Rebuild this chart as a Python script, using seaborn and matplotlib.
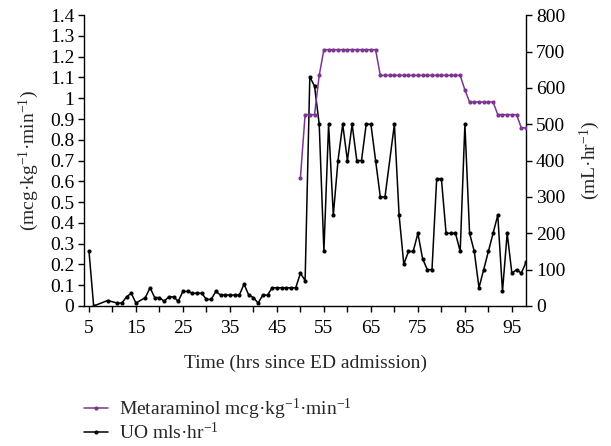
import matplotlib
matplotlib.use("Agg")
import matplotlib.pyplot as plt
import seaborn as sns
import pandas as pd
from matplotlib.ticker import MultipleLocator, FixedLocator, FuncFormatter

# ---- data ----
uo_hours = [5, 6, 9, 11, 12, 13, 14, 15, 17, 18, 19, 20, 21, 22, 23, 24, 25, 26, 27, 28,
            29, 30, 31, 32, 33, 34, 35, 36, 37, 38, 39, 40, 41, 42, 43, 44, 45, 46, 47, 48,
            49, 50, 51, 52, 53, 54, 55, 56, 57, 58, 59, 60, 61, 62, 63, 64, 65, 66, 67, 68,
            70, 71, 72, 73, 74, 75, 76, 77, 78, 79, 80, 81, 82, 83, 84, 85, 86, 87, 88, 89,
            90, 91, 92, 93, 94, 95, 96, 97, 98]
uo_values = [152, 0, 15, 8, 8, 25, 35, 8, 23, 50, 23, 23, 13, 25, 25, 13, 40, 40, 35, 35,
             35, 18, 18, 40, 30, 30, 30, 30, 30, 60, 30, 23, 8, 30, 30, 50, 50, 50, 50, 50,
             50, 90, 70, 630, 605, 500, 150, 500, 250, 400, 500, 400, 500, 400, 400, 500, 500, 400, 300, 300,
             500, 250, 115, 150, 150, 200, 130, 100, 100, 350, 350, 200, 200, 200, 150, 500, 200, 150, 50, 100,
             150, 200, 250, 40, 200, 90, 100, 90, 120]

met_hours = [50, 51, 52, 53, 54, 55, 56, 57, 58, 59, 60, 61, 62, 63, 64, 65, 66, 67, 68, 69,
             70, 71, 72, 73, 74, 75, 76, 77, 78, 79, 80, 81, 82, 83, 84, 85, 86, 87, 88, 89,
             90, 91, 92, 93, 94, 95, 96, 97, 98]
met_values = [0.617, 0.921, 0.921, 0.921, 1.11, 1.234, 1.234, 1.234, 1.234, 1.234, 1.234, 1.234,
              1.234, 1.234, 1.234, 1.234, 1.234, 1.11, 1.11, 1.11, 1.11, 1.11, 1.11, 1.11, 1.11,
              1.11, 1.11, 1.11, 1.11, 1.11, 1.11, 1.11, 1.11, 1.11, 1.11, 1.04, 0.982, 0.982, 0.982,
              0.982, 0.982, 0.982, 0.921, 0.921, 0.921, 0.921, 0.921, 0.858, 0.858]

x_label = "Time (hrs since ED admission)"
left_label = r"(mcg·kg$^{-1}$·min$^{-1}$)"
right_label = r"(mL·hr$^{-1}$)"
met_legend = r"Metaraminol mcg·kg$^{-1}$·min$^{-1}$"
uo_legend = r"UO mls·hr$^{-1}$"

# ---- style ----
sns.set_style("ticks")
plt.rcParams["font.family"] = ["Liberation Serif", "DejaVu Serif"]
plt.rcParams["mathtext.fontset"] = "custom"
plt.rcParams["mathtext.rm"] = "Liberation Serif"
plt.rcParams["mathtext.it"] = "Liberation Serif:italic"
FS = 14

purple = "#7d3590"

fig = plt.figure(figsize=(6.11, 4.46), dpi=100)
ax = fig.add_axes([0.1375, 0.314, 0.7235, 0.652])
ax2 = ax.twinx()

met_df = pd.DataFrame({"hour": met_hours, "value": met_values})
uo_df = pd.DataFrame({"hour": uo_hours, "value": uo_values})

sns.lineplot(data=met_df, x="hour", y="value", ax=ax, color=purple, lw=1.1,
             marker="o", markersize=3, markeredgewidth=0, label=met_legend, legend=False)
sns.lineplot(data=uo_df, x="hour", y="value", ax=ax2, color="black", lw=1.1,
             marker="o", markersize=3, markeredgewidth=0, label=uo_legend, legend=False)

ax.set_xlim(3.95, 98.02)
ax.set_ylim(0, 1.4)
ax2.set_ylim(0, 800)

ax.xaxis.set_major_locator(FixedLocator(list(range(5, 100, 10))))
ax.xaxis.set_minor_locator(FixedLocator(list(range(10, 100, 10))))
ax.yaxis.set_major_locator(MultipleLocator(0.1))
ax.yaxis.set_major_formatter(FuncFormatter(lambda v, p: f"{v:.1f}".rstrip("0").rstrip(".") if abs(v) > 1e-9 else "0"))
ax2.yaxis.set_major_locator(MultipleLocator(100))

for a in (ax, ax2):
    a.spines["top"].set_visible(False)
    for s in a.spines.values():
        s.set_linewidth(1.0)
        s.set_color("black")
    a.tick_params(axis="both", which="both", direction="out", length=4, width=1.0,
                  colors="black", labelsize=FS, pad=3)
ax.tick_params(axis="x", which="major", pad=6)
ax.spines["right"].set_visible(False)
ax2.spines["left"].set_visible(False)
ax2.spines["bottom"].set_visible(False)

ax.set_xlabel(x_label, fontsize=FS, labelpad=13)
ax.set_ylabel(left_label, fontsize=FS, labelpad=6)
ax2.set_ylabel(right_label, fontsize=FS, labelpad=9)
ax.set_zorder(ax2.get_zorder() + 1)
ax.patch.set_visible(False)

h1, l1 = ax.get_legend_handles_labels()
h2, l2 = ax2.get_legend_handles_labels()
fig.legend(h1 + h2, l1 + l2, loc="upper left", bbox_to_anchor=(0.125, 0.128),
           frameon=False, fontsize=FS, handlelength=1.25, handletextpad=0.55,
           labelspacing=0.0, borderaxespad=0.0, borderpad=0.4)

fig.savefig("out.png", dpi=100)
